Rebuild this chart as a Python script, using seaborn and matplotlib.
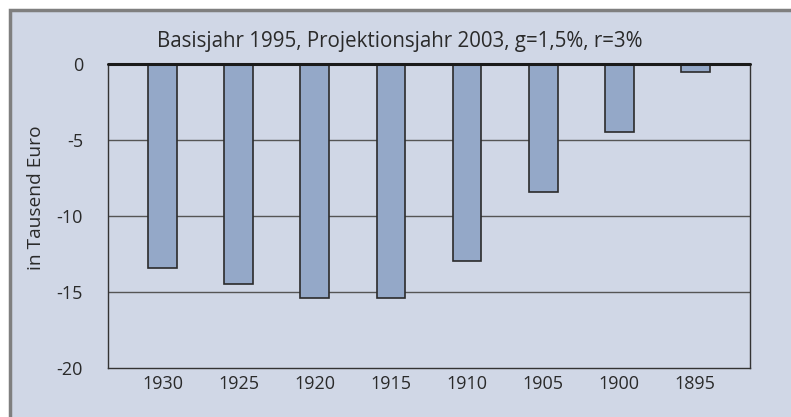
import matplotlib
matplotlib.use("Agg")
import matplotlib.pyplot as plt
from matplotlib.patches import Rectangle
import pandas as pd
import seaborn as sns

# Daten
jahrgaenge = ["1930", "1925", "1920", "1915", "1910", "1905", "1900", "1895"]
werte = [-13.45, -14.5, -15.4, -15.4, -12.95, -8.45, -4.45, -0.5]
y_ticks = [0, -5, -10, -15, -20]
titel = "Basisjahr 1995, Projektionsjahr 2003, g=1,5%, r=3%"

HINTERGRUND = "#d0d7e6"
BALKEN = "#94a8c8"
TEXT = "#2a2a2a"

sns.set_style("white")
plt.rcParams["font.family"] = ["Open Sans", "DejaVu Sans"]

df = pd.DataFrame({"Jahrgang": jahrgaenge, "Wert": werte})

fig = plt.figure(figsize=(7.91, 4.17), dpi=100)
fig.patch.set_facecolor("white")
# Rahmen um das Diagramm
fig.patches.append(Rectangle((10 / 791, -0.05), 1.0, 1 - 9.5 / 417 + 0.05,
                             transform=fig.transFigure, facecolor=HINTERGRUND,
                             edgecolor="#7f7f7f", linewidth=2.5, zorder=-5))

ax = fig.add_axes([108 / 791, 1 - 368 / 417, (750 - 108) / 791, (368 - 64) / 417])
ax.set_zorder(2)
ax.set_facecolor(HINTERGRUND)

sns.barplot(data=df, x="Jahrgang", y="Wert", order=jahrgaenge, ax=ax,
            color=BALKEN, saturation=1, width=0.38,
            edgecolor="#2b2b2b", linewidth=1.2, zorder=3)

ax.set_xlim(-0.72, 7.72)
ax.set_ylim(-20, 0)
ax.set_yticks(y_ticks)
ax.set_yticklabels([str(t) for t in y_ticks])
for t in [-5, -10, -15]:
    ax.axhline(t, color="#555555", linewidth=1.0, zorder=1)
ax.axhline(0, color="#1a1a1a", linewidth=2.2, zorder=4, clip_on=False)

for s in ["left", "bottom", "right"]:
    ax.spines[s].set_color("#333333")
    ax.spines[s].set_linewidth(1.0)
ax.spines["top"].set_visible(False)

ax.tick_params(axis="both", length=0, labelsize=13, colors=TEXT)
ax.tick_params(axis="y", pad=18)
ax.tick_params(axis="x", pad=5)
ax.set_xlabel("")
ax.set_ylabel("")
fig.text(36 / 791, 1 - 198 / 417, "in Tausend Euro", rotation=90,
         ha="center", va="center", fontsize=13.8, color=TEXT)

fig.text(400 / 791, 1 - 42 / 417, titel, ha="center", va="center",
         fontsize=14.8, color=TEXT)

fig.savefig("out.png", dpi=100, facecolor=fig.get_facecolor())
